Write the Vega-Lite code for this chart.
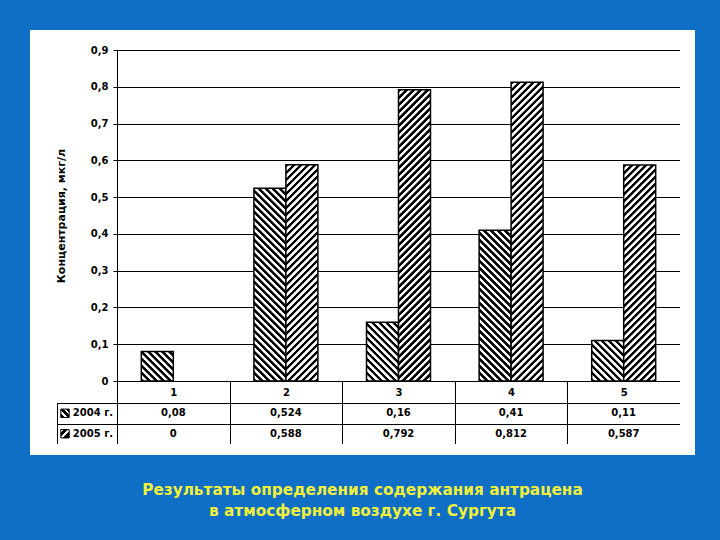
{
  "$schema": "https://vega.github.io/schema/vega-lite/v6.json",
  "background": "#0f6fc6",
  "padding": {"left": 30, "top": 30, "right": 25, "bottom": 22},
  "config": {
    "view": {"fill": "white", "stroke": null},
    "font": "DejaVu Sans",
    "locale": {"number": {"decimal": ",", "thousands": " ", "grouping": [3], "currency": ["", ""]}},
    "axis": {"domainColor": "black", "tickColor": "black", "labelColor": "black", "titleColor": "black", "gridColor": "black", "gridOpacity": 1, "gridWidth": 1}
  },
  "datasets": {
    "conc": [
      {"site": "1", "year": "2004 г.", "value": 0.08},
      {"site": "1", "year": "2005 г.", "value": 0},
      {"site": "2", "year": "2004 г.", "value": 0.524},
      {"site": "2", "year": "2005 г.", "value": 0.588},
      {"site": "3", "year": "2004 г.", "value": 0.16},
      {"site": "3", "year": "2005 г.", "value": 0.792},
      {"site": "4", "year": "2004 г.", "value": 0.41},
      {"site": "4", "year": "2005 г.", "value": 0.812},
      {"site": "5", "year": "2004 г.", "value": 0.11},
      {"site": "5", "year": "2005 г.", "value": 0.587}
    ]
  },
  "title": {
    "text": ["Результаты определения содержания антрацена", "в атмосферном воздухе г. Сургута"],
    "orient": "bottom", "anchor": "middle", "font": "DejaVu Sans", "fontSize": 15.3, "fontWeight": "bold",
    "color": "#f0f03a", "lineHeight": 21, "offset": 28
  },
  "bounds": "flush",
  "align": "each",
  "spacing": 0,
  "columns": 4,
  "concat": [
    {"width": 27, "height": 20, "data": {"values": []}, "view": {"fill": "white", "stroke": null}, "mark": "point", "encoding": {"x": {"field": "site", "type": "nominal", "axis": null}}},
    {"width": 60, "height": 20, "data": {"values": []}, "view": {"fill": "white", "stroke": null}, "mark": "point", "encoding": {"x": {"field": "site", "type": "nominal", "axis": null}}},
    {"width": 563, "height": 20, "data": {"values": []}, "view": {"fill": "white", "stroke": null}, "mark": "point", "encoding": {"x": {"field": "site", "type": "nominal", "axis": null}}},
    {"width": 15, "height": 20, "data": {"values": []}, "view": {"fill": "white", "stroke": null}, "mark": "point", "encoding": {"x": {"field": "site", "type": "nominal", "axis": null}}},

    {"width": 27, "height": 353, "data": {"values": []}, "view": {"fill": "white", "stroke": null}, "mark": "point", "encoding": {"x": {"field": "site", "type": "nominal", "axis": null}}},
    {"width": 60, "height": 353, "data": {"values": []}, "view": {"fill": "white", "stroke": null}, "mark": "point", "encoding": {"x": {"field": "site", "type": "nominal", "axis": null}}},
    {
      "width": 563,
      "height": 353,
      "data": {"name": "conc"},
      "view": {"fill": "white", "stroke": "black", "strokeWidth": 1},
      "layer": [
        {
          "transform": [{"filter": "datum.value > 0"}],
          "mark": {"type": "bar", "stroke": "black", "strokeWidth": 1.5},
          "encoding": {
            "x": {
              "field": "site", "type": "nominal", "scale": {"paddingInner": 0, "paddingOuter": 0},
              "axis": {
                "title": null, "orient": "bottom", "offset": -22, "tickBand": "extent", "tickSize": 22, "labelAngle": 0,
                "labelFont": "DejaVu Sans", "labelFontSize": 10, "labelFontWeight": "bold", "labelPadding": -16, "grid": false
              }
            },
            "xOffset": {"field": "year", "type": "nominal", "scale": {"paddingInner": 0, "paddingOuter": 0.76}},
            "y": {
              "field": "value", "type": "quantitative",
              "scale": {"domain": [0, 0.9], "nice": false, "range": [331, 0]},
              "axis": {
                "values": [0, 0.1, 0.2, 0.3, 0.4, 0.5, 0.6, 0.7, 0.8, 0.9],
                "format": "~g",
                "title": "Концентрация, мкг/л",
                "titleFont": "DejaVu Sans", "titleFontSize": 11, "titleFontWeight": "bold", "titlePadding": 24,
                "labelFont": "DejaVu Sans", "labelFontSize": 10, "labelFontWeight": "bold", "labelPadding": 5,
                "tickSize": 4, "grid": true
              }
            },
            "fill": {"value": {"expr": "datum.year == '2004 г.' ? gradient('color', [0, 1], [10752 / (pow(datum.value * 367.8, 2) + 1024), 1 - 336 * datum.value * 367.8 / (pow(datum.value * 367.8, 2) + 1024)], 480) : gradient('color', [0, 0], [10752 / (pow(datum.value * 367.8, 2) + 1024), 336 * datum.value * 367.8 / (pow(datum.value * 367.8, 2) + 1024)], 480)"}}
          }
        },
        {
          "mark": {"type": "point", "opacity": 0},
          "encoding": {
            "color": {
              "field": "value", "type": "quantitative", "legend": null,
              "scale": {
                "nice": false, "zero": false,
                "domain": [0,0.4,0.5,0.9,1,1.4,1.5,1.9,2,2.4,2.5,2.9,3,3.4,3.5,3.9,4,4.4,4.5,4.9,5,5.4,5.5,5.9,6,6.4,6.5,6.9,7,7.4,7.5,7.9,8,8.4,8.5,8.9,9,9.4,9.5,9.9,10,10.4,10.5,10.9,11,11.4,11.5,11.9,12,12.4,12.5,12.9,13,13.4,13.5,13.9,14,14.4,14.5,14.9,15,15.4,15.5,15.9,16,16.4,16.5,16.9,17,17.4,17.5,17.9,18,18.4,18.5,18.9,19,19.4,19.5,19.9,20,20.4,20.5,20.9,21,21.4,21.5,21.9,22,22.4,22.5,22.9,23,23.4,23.5,23.9,24,24.4,24.5,24.9,25,25.4,25.5,25.9,26,26.4,26.5,26.9,27,27.4,27.5,27.9,28,28.4,28.5,28.9,29,29.4,29.5,29.9,30,30.4,30.5,30.9,31,31.4,31.5,31.9,32,32.4,32.5,32.9,33,33.4,33.5,33.9,34,34.4,34.5,34.9,35,35.4,35.5,35.9,36,36.4,36.5,36.9,37,37.4,37.5,37.9,38,38.4,38.5,38.9,39,39.4,39.5,39.9,40,40.4,40.5,40.9,41,41.4,41.5,41.9,42,42.4,42.5,42.9,43,43.4,43.5,43.9,44,44.4,44.5,44.9,45,45.4,45.5,45.9,46,46.4,46.5,46.9,47,47.4,47.5,47.9,48],
                "range": ["#000","#000","#fff","#fff","#000","#000","#fff","#fff","#000","#000","#fff","#fff","#000","#000","#fff","#fff","#000","#000","#fff","#fff","#000","#000","#fff","#fff","#000","#000","#fff","#fff","#000","#000","#fff","#fff","#000","#000","#fff","#fff","#000","#000","#fff","#fff","#000","#000","#fff","#fff","#000","#000","#fff","#fff","#000","#000","#fff","#fff","#000","#000","#fff","#fff","#000","#000","#fff","#fff","#000","#000","#fff","#fff","#000","#000","#fff","#fff","#000","#000","#fff","#fff","#000","#000","#fff","#fff","#000","#000","#fff","#fff","#000","#000","#fff","#fff","#000","#000","#fff","#fff","#000","#000","#fff","#fff","#000","#000","#fff","#fff","#000","#000","#fff","#fff","#000","#000","#fff","#fff","#000","#000","#fff","#fff","#000","#000","#fff","#fff","#000","#000","#fff","#fff","#000","#000","#fff","#fff","#000","#000","#fff","#fff","#000","#000","#fff","#fff","#000","#000","#fff","#fff","#000","#000","#fff","#fff","#000","#000","#fff","#fff","#000","#000","#fff","#fff","#000","#000","#fff","#fff","#000","#000","#fff","#fff","#000","#000","#fff","#fff","#000","#000","#fff","#fff","#000","#000","#fff","#fff","#000","#000","#fff","#fff","#000","#000","#fff","#fff","#000","#000","#fff","#fff","#000","#000","#fff","#fff","#000","#000","#fff","#fff","#000","#000","#fff","#fff","#000","#000","#fff","#fff","#000"]
              }
            }
          }
        }
      ]
    },
    {"width": 15, "height": 353, "data": {"values": []}, "view": {"fill": "white", "stroke": null}, "mark": "point", "encoding": {"x": {"field": "site", "type": "nominal", "axis": null}}},

    {"width": 27, "height": 41, "data": {"values": []}, "view": {"fill": "white", "stroke": null}, "mark": "point", "encoding": {"x": {"field": "site", "type": "nominal", "axis": null}}},
    {
      "width": 60,
      "height": 41,
      "data": {"name": "conc"},
      "transform": [{"filter": "datum.site == '1'"}],
      "view": {"fill": "white", "stroke": "black", "strokeWidth": 1},
      "encoding": {
        "y": {"field": "year", "type": "nominal", "scale": {"paddingInner": 0, "paddingOuter": 0},
              "axis": {"labels": false, "ticks": false, "domain": false, "title": null, "grid": true, "tickBand": "extent"}}
      },
      "layer": [
        {
          "mark": {"type": "text", "font": "DejaVu Sans", "fontWeight": "bold", "fontSize": 10, "color": "black", "dx": 6},
          "encoding": {"text": {"field": "year"}}
        },
        {
          "mark": {"type": "point", "shape": "square", "size": 70, "xOffset": -22, "stroke": "black", "strokeWidth": 1, "filled": true, "opacity": 1},
          "encoding": {
            "fill": {
              "condition": {"test": "datum.year == '2004 г.'", "value": {"gradient": "linear", "x1": 0, "y1": 1, "x2": 1, "y2": 0, "stops": [{"offset": 0, "color": "#000"}, {"offset": 0.25, "color": "#000"}, {"offset": 0.25, "color": "#fff"}, {"offset": 0.4, "color": "#fff"}, {"offset": 0.4, "color": "#000"}, {"offset": 0.65, "color": "#000"}, {"offset": 0.65, "color": "#fff"}, {"offset": 0.8, "color": "#fff"}, {"offset": 0.8, "color": "#000"}, {"offset": 1, "color": "#000"}]}},
              "value": {"gradient": "linear", "x1": 0, "y1": 0, "x2": 1, "y2": 1, "stops": [{"offset": 0, "color": "#fff"}, {"offset": 0.2, "color": "#fff"}, {"offset": 0.2, "color": "#000"}, {"offset": 0.45, "color": "#000"}, {"offset": 0.45, "color": "#fff"}, {"offset": 0.6, "color": "#fff"}, {"offset": 0.6, "color": "#000"}, {"offset": 1, "color": "#000"}]}
            }
          }
        }
      ]
    },
    {
      "width": 563,
      "height": 41,
      "data": {"name": "conc"},
      "view": {"fill": "white", "stroke": "black", "strokeWidth": 1},
      "mark": {"type": "text", "font": "DejaVu Sans", "fontWeight": "bold", "fontSize": 10, "color": "black"},
      "encoding": {
        "x": {"field": "site", "type": "nominal", "scale": {"paddingInner": 0, "paddingOuter": 0},
              "axis": {"labels": false, "ticks": false, "domain": false, "title": null, "grid": true, "tickBand": "extent"}},
        "y": {"field": "year", "type": "nominal", "scale": {"paddingInner": 0, "paddingOuter": 0},
              "axis": {"labels": false, "ticks": false, "domain": false, "title": null, "grid": true, "tickBand": "extent"}},
        "text": {"field": "value", "type": "quantitative", "format": "~g"}
      }
    },
    {"width": 15, "height": 41, "data": {"values": []}, "view": {"fill": "white", "stroke": null}, "mark": "point", "encoding": {"x": {"field": "site", "type": "nominal", "axis": null}}},

    {"width": 27, "height": 11, "data": {"values": []}, "view": {"fill": "white", "stroke": null}, "mark": "point", "encoding": {"x": {"field": "site", "type": "nominal", "axis": null}}},
    {"width": 60, "height": 11, "data": {"values": []}, "view": {"fill": "white", "stroke": null}, "mark": "point", "encoding": {"x": {"field": "site", "type": "nominal", "axis": null}}},
    {"width": 563, "height": 11, "data": {"values": []}, "view": {"fill": "white", "stroke": null}, "mark": "point", "encoding": {"x": {"field": "site", "type": "nominal", "axis": null}}},
    {"width": 15, "height": 11, "data": {"values": []}, "view": {"fill": "white", "stroke": null}, "mark": "point", "encoding": {"x": {"field": "site", "type": "nominal", "axis": null}}}
  ]
}
